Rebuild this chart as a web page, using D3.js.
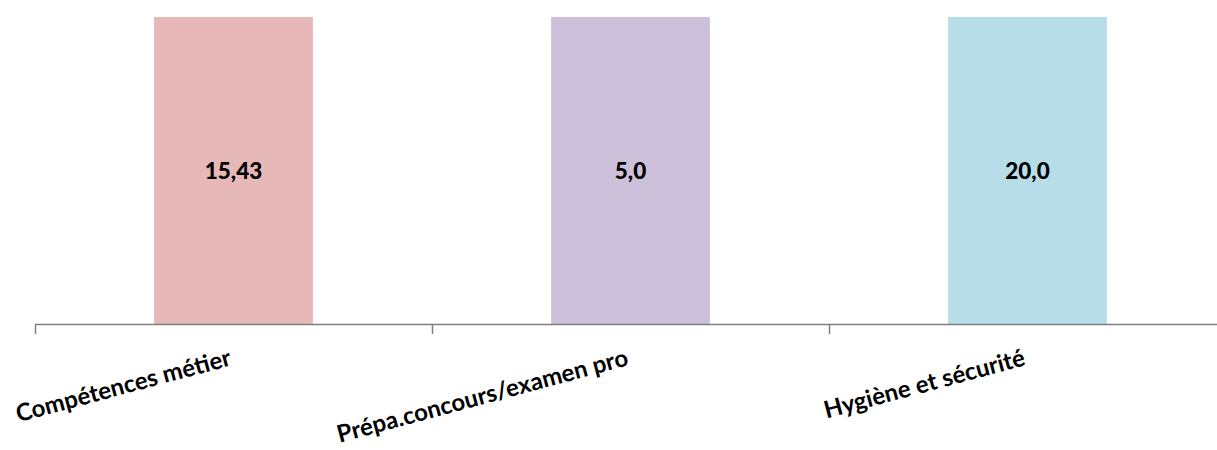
<!DOCTYPE html>
<html><head><meta charset="utf-8">
<script src="https://cdn.jsdelivr.net/npm/d3@7"></script>
<style>body{margin:0;background:#fff}svg{display:block}</style>
</head><body>
<script>
const categories = ["Compétences métier", "Prépa.concours/examen pro", "Hygiène et sécurité"];
const values = [15.43, 5.0, 20.0];
const valueLabels = ["15,43", "5,0", "20,0"];
const sharePct = [100, 100, 100]; // 100% stacked: each bar fills its category
const colors = ["#e6b8b7", "#ccc0da", "#b7dee8"];

const W = 1217, H = 450;
const svg = d3.select("body").append("svg").attr("width", W).attr("height", H);
const x = d3.scaleBand().domain(categories).range([35, 1226]).paddingInner(0.6).paddingOuter(0.3);
const y = d3.scaleLinear().domain([0, 100]).range([324, 17]);

const data = categories.map((c, i) => ({c, v: values[i], lab: valueLabels[i], s: sharePct[i], col: colors[i]}));

svg.selectAll("rect.bar").data(data).join("rect").attr("class","bar")
  .attr("x", d => x(d.c)).attr("width", x.bandwidth())
  .attr("y", d => y(d.s)).attr("height", d => y(0) - y(d.s))
  .attr("fill", d => d.col);

svg.selectAll("text.val").data(data).join("text").attr("class","val")
  .attr("x", d => x(d.c) + x.bandwidth()/2).attr("y", d => (y(d.s)+y(0))/2)
  .attr("text-anchor","middle").attr("dominant-baseline","central")
  .attr("font-family","Lato, sans-serif").attr("font-weight","900").attr("font-size", 22.5)
  .attr("fill","#000").text(d => d.lab);

// axis
const step = x.step();
const ax = svg.append("g");
ax.append("line").attr("x1", 35).attr("x2", 1226).attr("y1", 324.5).attr("y2", 324.5).attr("stroke","#7f7f7f").attr("stroke-width",1.5);
const tickXs = categories.map(c => x(c) - x.paddingInner()*step/2 + 0.5);
tickXs.forEach(t => ax.append("line").attr("x1", t).attr("x2", t).attr("y1", 324).attr("y2", 334).attr("stroke","#7f7f7f").attr("stroke-width",1.5));

svg.selectAll("text.cat").data(data).join("text").attr("class","cat")
  .attr("transform", d => `translate(${x(d.c)+x.bandwidth()/2 - 1},${365}) rotate(-15)`)
  .attr("text-anchor","end")
  .attr("font-family","Lato, sans-serif").attr("font-weight","bold").attr("font-size", 24)
  .attr("fill","#000").text(d => d.c);
</script>
</body></html>
